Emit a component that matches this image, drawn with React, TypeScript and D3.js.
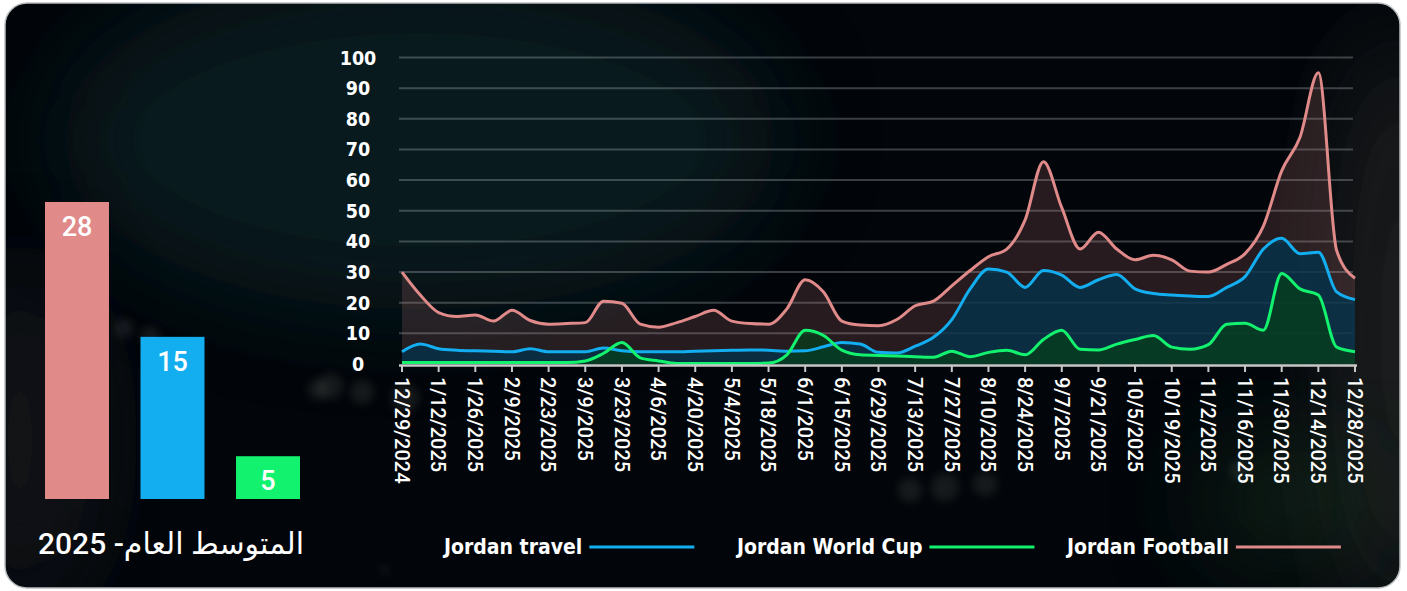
import { useEffect, useRef } from 'react'
import * as d3 from 'd3'

const W = 1407
const H = 591

const weeks = [
  '12/29/2024', '1/5/2025', '1/12/2025', '1/19/2025', '1/26/2025', '2/2/2025', '2/9/2025',
  '2/16/2025', '2/23/2025', '3/2/2025', '3/9/2025', '3/16/2025', '3/23/2025', '3/30/2025',
  '4/6/2025', '4/13/2025', '4/20/2025', '4/27/2025', '5/4/2025', '5/11/2025', '5/18/2025',
  '5/25/2025', '6/1/2025', '6/8/2025', '6/15/2025', '6/22/2025', '6/29/2025', '7/6/2025',
  '7/13/2025', '7/20/2025', '7/27/2025', '8/3/2025', '8/10/2025', '8/17/2025', '8/24/2025',
  '8/31/2025', '9/7/2025', '9/14/2025', '9/21/2025', '9/28/2025', '10/5/2025', '10/12/2025',
  '10/19/2025', '10/26/2025', '11/2/2025', '11/9/2025', '11/16/2025', '11/23/2025',
  '11/30/2025', '12/7/2025', '12/14/2025', '12/21/2025', '12/28/2025',
]

const travel = [
  4, 6.5, 5, 4.5, 4.3, 4.2, 4, 5, 4, 4, 4,
  5.2, 4.3, 4, 4, 4, 4.2, 4.3, 4.5, 4.6, 4.5,
  4.2, 4.3, 5.6, 7, 6.5, 3.8, 3.6, 5.8, 8.7, 14.5,
  24.5, 31, 30, 25, 30.5, 29, 25, 27.5, 29.2, 24.5,
  23, 22.5, 22.2, 22, 25, 28.5, 37.5, 41, 36, 36.5, 23.5, 21,
]

const worldCup = [
  0.5, 0.5, 0.5, 0.5, 0.5, 0.5, 0.5, 0.5, 0.5, 0.5,
  1, 3.5, 7, 2, 1, 0.2, 0.2, 0.2, 0.2, 0.2, 0.3,
  3, 11, 9.3, 4.5, 3, 2.8, 2.6, 2.4, 2.2, 4.2,
  2.4, 3.8, 4.5, 3, 8, 11, 4.8, 4.6, 6.5, 8,
  9.3, 5.5, 4.8, 6.3, 13, 13.3, 11, 29.5, 24.5, 22.5, 5.5, 4,
]

const football = [
  30, 22.5, 16.8, 15.5, 16, 14, 17.5, 14.2, 13, 13.2, 13.5,
  20.5, 19.8, 13, 12, 13.5, 15.5, 17.5, 14, 13.2, 13,
  18, 27.5, 23.5, 14, 12.7, 12.5, 14.5, 19, 20.5, 25.5,
  30.5, 35, 37.5, 47, 66, 51, 37.5, 43, 37.5, 34,
  35.5, 34, 30.3, 30, 32.5, 36, 45, 63, 74, 95, 37, 28,
]

const yTicks = [0, 10, 20, 30, 40, 50, 60, 70, 80, 90, 100]

const barNames = ['Jordan Football', 'Jordan travel', 'Jordan World Cup']
const barValues = [27.6, 15.4, 4.6]
const barFloor = 0.73

const legendNames = ['Jordan travel', 'Jordan World Cup', 'Jordan Football']
const title = 'المتوسط العام- 2025'

const colors: Record<string, string> = {
  'Jordan travel': '#12aef0',
  'Jordan World Cup': '#12f26e',
  'Jordan Football': '#e08a8a',
}

const condensed = "'DejaVu Sans Condensed', 'DejaVu Sans', sans-serif"

export default function App() {
  const svgRef = useRef<SVGSVGElement>(null)

  useEffect(() => {
    if (!svgRef.current) return
    const svg = d3.select(svgRef.current)
    svg.selectAll('*').remove()

    const defs = svg.append('defs')
    defs.append('clipPath').attr('id', 'card-clip')
      .append('rect').attr('x', 5).attr('y', 3).attr('width', 1395).attr('height', 585).attr('rx', 22)

    const blur = defs.append('filter').attr('id', 'soft')
      .attr('x', '-50%').attr('y', '-50%').attr('width', '200%').attr('height', '200%')
    blur.append('feGaussianBlur').attr('stdDeviation', 50)
    const blurSmall = defs.append('filter').attr('id', 'bokeh')
      .attr('x', '-50%').attr('y', '-50%').attr('width', '200%').attr('height', '200%')
    blurSmall.append('feGaussianBlur').attr('stdDeviation', 4)

    // background card
    const bg = svg.append('g').attr('clip-path', 'url(#card-clip)')
    bg.append('rect').attr('width', W).attr('height', H).attr('fill', '#02060a')
    bg.append('ellipse').attr('cx', 420).attr('cy', 140).attr('rx', 360).attr('ry', 170)
      .attr('fill', '#0b2529').attr('opacity', 0.65).attr('filter', 'url(#soft)')
    bg.append('ellipse').attr('cx', 20).attr('cy', 440).attr('rx', 70).attr('ry', 170)
      .attr('fill', '#1a1e20').attr('opacity', 0.7).attr('filter', 'url(#soft)')
    bg.append('ellipse').attr('cx', 1400).attr('cy', 330).attr('rx', 60).attr('ry', 300)
      .attr('fill', '#2a2c2c').attr('opacity', 0.75).attr('filter', 'url(#soft)')
    bg.append('ellipse').attr('cx', 1290).attr('cy', 500).attr('rx', 90).attr('ry', 60)
      .attr('fill', '#1d3a22').attr('opacity', 0.5).attr('filter', 'url(#soft)')
    const spots = [[330, 386, 13], [362, 392, 12], [405, 398, 14], [124, 328, 10], [150, 336, 10],
      [910, 490, 12], [945, 487, 14], [985, 484, 12], [318, 390, 10], [1240, 470, 10], [385, 570, 4]]
    bg.selectAll('circle.spot').data(spots).join('circle')
      .attr('cx', d => d[0]).attr('cy', d => d[1]).attr('r', d => d[2])
      .attr('fill', '#6b6b66').attr('opacity', 0.2).attr('filter', 'url(#bokeh)')

    svg.append('rect').attr('x', 5).attr('y', 3).attr('width', 1395).attr('height', 585).attr('rx', 22)
      .attr('fill', 'none').attr('stroke', '#b9bcbe').attr('stroke-width', 1.5)

    // line chart
    const x = d3.scalePoint<string>().domain(weeks).range([402, 1355])
    const y = d3.scaleLinear().domain([0, 100]).range([364, 57.5])

    const g = svg.append('g')
    g.selectAll('line.grid').data(yTicks.filter(t => t > 0)).join('line')
      .attr('x1', 399).attr('x2', 1353)
      .attr('y1', d => y(d)).attr('y2', d => y(d))
      .attr('stroke', 'rgba(190,196,200,0.3)').attr('stroke-width', 2)

    g.selectAll('text.ytick').data(yTicks).join('text')
      .attr('x', 358).attr('y', d => y(d)).attr('dy', '0.36em')
      .attr('text-anchor', 'middle').attr('fill', '#fff')
      .style('font-family', condensed).style('font-weight', 'bold').style('font-size', '19.5px')
      .text(d => d)

    const series = [
      { name: 'Jordan Football', values: football, fill: 'rgba(224,138,138,0.17)' },
      { name: 'Jordan travel', values: travel, fill: 'rgba(3,50,76,0.78)' },
      { name: 'Jordan World Cup', values: worldCup, fill: 'rgba(6,64,26,0.72)' },
    ]

    const area = d3.area<number>()
      .x((_d, i) => x(weeks[i]) as number)
      .y0(y(0))
      .y1(d => y(d))
      .curve(d3.curveMonotoneX)
    const line = d3.line<number>()
      .x((_d, i) => x(weeks[i]) as number)
      .y(d => y(d))
      .curve(d3.curveMonotoneX)

    series.forEach(s => {
      g.append('path').datum(s.values).attr('d', area).attr('fill', s.fill)
    })
    series.forEach(s => {
      g.append('path').datum(s.values).attr('d', line)
        .attr('fill', 'none').attr('stroke', colors[s.name]).attr('stroke-width', 3)
        .attr('stroke-linejoin', 'round')
    })

    // x axis
    g.append('line').attr('x1', 399).attr('x2', 1357).attr('y1', 365.5).attr('y2', 365.5)
      .attr('stroke', '#c8c8c8').attr('stroke-width', 2.5)
    const shown = weeks.filter((_w, i) => i % 2 === 0)
    g.selectAll('line.tick').data(shown).join('line')
      .attr('x1', d => x(d) as number).attr('x2', d => x(d) as number)
      .attr('y1', 366).attr('y2', 372)
      .attr('stroke', '#c8c8c8').attr('stroke-width', 2)
    g.selectAll('text.xtick').data(shown).join('text')
      .attr('transform', d => `translate(${x(d)},377) rotate(90)`)
      .attr('dy', '0.36em').attr('text-anchor', 'start').attr('fill', '#fff')
      .style('font-family', 'Roboto, sans-serif').style('font-weight', 500).style('font-size', '20px')
      .text(d => d)

    // legend
    const legendX = [444, 737, 1067]
    legendNames.forEach((name, i) => {
      const item = svg.append('g')
      const t = item.append('text').attr('x', legendX[i]).attr('y', 554)
        .attr('fill', '#fff')
        .style('font-family', condensed).style('font-weight', 'bold').style('font-size', '21px')
        .text(name)
      const len = (t.node() as SVGTextElement).getComputedTextLength()
      item.append('line')
        .attr('x1', legendX[i] + len + 7).attr('x2', legendX[i] + len + 112)
        .attr('y1', 547).attr('y2', 547)
        .attr('stroke', colors[name]).attr('stroke-width', 3)
    })

    // average bars
    const bx = d3.scaleBand<string>().domain(barNames).range([45, 300]).paddingInner(0.33)
    const by = d3.scaleLinear().domain([barFloor, d3.max(barValues) as number]).range([499, 202])
    const bars = svg.append('g')
    bars.selectAll('rect').data(barNames).join('rect')
      .attr('x', d => bx(d) as number).attr('width', bx.bandwidth())
      .attr('y', (_d, i) => by(barValues[i])).attr('height', (_d, i) => 499 - by(barValues[i]))
      .attr('fill', d => colors[d])
    bars.selectAll('text').data(barNames).join('text')
      .attr('x', d => (bx(d) as number) + bx.bandwidth() / 2)
      .attr('y', (_d, i) => by(barValues[i]) + 34)
      .attr('text-anchor', 'middle').attr('fill', '#fff')
      .style('font-family', 'Roboto, sans-serif').style('font-weight', 500).style('font-size', '27px')
      .text((_d, i) => Math.round(barValues[i]))

    svg.append('text').attr('x', 171).attr('y', 554)
      .attr('text-anchor', 'middle').attr('fill', '#fff')
      .style('direction', 'rtl').style('unicode-bidi', 'plaintext')
      .style('font-family', "Roboto, 'DejaVu Sans', sans-serif").style('font-weight', 500).style('font-size', '30px')
      .text(title)
  }, [])

  return (
    <>
      <style>{'body{margin:0;background:#fff}'}</style>
      <svg ref={svgRef} width={W} height={H} style={{ display: 'block' }} />
    </>
  )
}
